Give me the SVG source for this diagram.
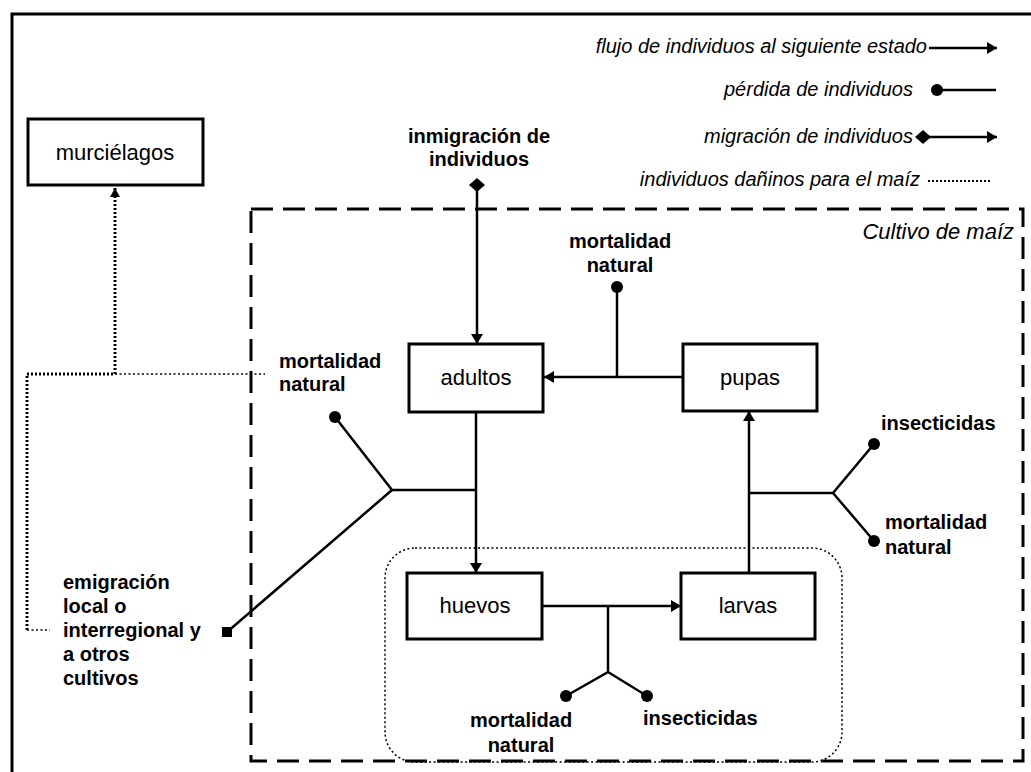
<svg xmlns="http://www.w3.org/2000/svg" width="1031" height="772" viewBox="0 0 1031 772">
<defs>
<style>
text{font-family:"Liberation Sans",Arial,sans-serif;fill:#000}
.node{fill:#fff;stroke:#000;stroke-width:3}
.lbl{font-size:22px;text-anchor:middle}
.b{font-size:20px;font-weight:bold}
.it{font-size:20px;font-style:italic;text-anchor:end}
.ln{fill:none;stroke:#000;stroke-width:2.5}
.dotk{fill:none;stroke:#000;stroke-width:3;stroke-dasharray:2,2}
.dott{fill:none;stroke:#000;stroke-width:1.5;stroke-dasharray:2,2.5}
</style>
<marker id="arr" markerUnits="userSpaceOnUse" markerWidth="12" markerHeight="12" refX="10" refY="6" orient="auto"><path d="M0,0 L10,6 L0,12 z" fill="#000"/></marker>
<marker id="arrs" markerUnits="userSpaceOnUse" markerWidth="10" markerHeight="10" refX="9" refY="5" orient="auto"><path d="M0,0 L9,5 L0,10 z" fill="#000"/></marker>
<marker id="dot" markerUnits="userSpaceOnUse" markerWidth="14" markerHeight="14" refX="7" refY="7"><circle cx="7" cy="7" r="6" fill="#000"/></marker>
<marker id="dia" markerUnits="userSpaceOnUse" markerWidth="16" markerHeight="14" refX="8" refY="7"><path d="M0,7 L8,0 L16,7 L8,14 z" fill="#000"/></marker>
<marker id="sq" markerUnits="userSpaceOnUse" markerWidth="12" markerHeight="12" refX="6" refY="6"><rect x="1" y="1" width="10" height="10" fill="#000"/></marker>
</defs>
<rect width="1031" height="772" fill="#fff"/>
<path d="M12,772 L12,14 L1031,14" fill="none" stroke="#000" stroke-width="3"/>

<g id="legend">
<text class="it" x="927" y="53">flujo de individuos al siguiente estado</text>
<line class="ln" x1="929" y1="48" x2="997" y2="48" stroke-width="2" marker-end="url(#arr)"/>
<text class="it" x="913" y="96">pérdida de individuos</text>
<line class="ln" x1="937" y1="90" x2="996" y2="90" stroke-width="2" marker-start="url(#dot)"/>
<text class="it" x="913" y="143">migración de individuos</text>
<line class="ln" x1="923" y1="137" x2="997" y2="137" stroke-width="2" marker-start="url(#dia)" marker-end="url(#arr)"/>
<text class="it" x="920" y="186">individuos dañinos para el maíz</text>
<line x1="928" y1="181" x2="992" y2="181" stroke="#000" stroke-width="2" stroke-dasharray="2,2"/>
</g>

<g id="cultivo">
<rect x="251" y="209" width="772" height="552" fill="none" stroke="#000" stroke-width="3" stroke-dasharray="22,10"/>
<text x="1014" y="239" font-size="22" font-style="italic" text-anchor="end">Cultivo de maíz</text>
</g>

<g id="inmaduros">
<rect x="385" y="548" width="457" height="214" rx="30" fill="none" stroke="#000" stroke-width="1.5" stroke-dasharray="2,2.5"/>
</g>

<g id="connectors">
<!-- immigration -->
<line class="ln" x1="477" y1="185" x2="477" y2="344" marker-start="url(#dia)" marker-end="url(#arr)"/>
<!-- pupas to adultos -->
<line class="ln" x1="683" y1="377" x2="544" y2="377" marker-end="url(#arr)"/>
<line class="ln" x1="617" y1="377" x2="617" y2="287" marker-end="url(#dot)"/>
<!-- adultos to huevos -->
<line class="ln" x1="476" y1="412" x2="476" y2="573" marker-end="url(#arr)"/>
<polyline class="ln" points="476,490 392,490 335,417" marker-end="url(#dot)"/>
<line class="ln" x1="392" y1="490" x2="227" y2="632" marker-end="url(#sq)"/>
<!-- huevos to larvas -->
<line class="ln" x1="542" y1="606" x2="681" y2="606" marker-end="url(#arr)"/>
<polyline class="ln" points="608,606 608,672 566,696" marker-end="url(#dot)"/>
<line class="ln" x1="608" y1="672" x2="647" y2="696" marker-end="url(#dot)"/>
<!-- larvas to pupas -->
<line class="ln" x1="749" y1="573" x2="749" y2="411" marker-end="url(#arr)"/>
<polyline class="ln" points="749,493 833,493 874,444" marker-end="url(#dot)"/>
<line class="ln" x1="833" y1="493" x2="874" y2="541" marker-end="url(#dot)"/>
<!-- bats (dotted) -->
<polyline class="dotk" points="27,630 27,374 115,374 115,188" marker-end="url(#arrs)"/>
<line class="dott" x1="115" y1="374" x2="265" y2="374"/>
<line class="dott" x1="27" y1="630" x2="50" y2="630"/>
</g>

<g id="murcielagos"><rect class="node" x="28" y="119" width="175" height="66"/><text class="lbl" x="115" y="160">murciélagos</text></g>
<g id="adultos"><rect class="node" x="409" y="344" width="134" height="68"/><text class="lbl" x="476" y="385">adultos</text></g>
<g id="pupas"><rect class="node" x="683" y="344" width="134" height="67"/><text class="lbl" x="750" y="385">pupas</text></g>
<g id="huevos"><rect class="node" x="407" y="573" width="135" height="66"/><text class="lbl" x="475" y="613">huevos</text></g>
<g id="larvas"><rect class="node" x="681" y="573" width="134" height="66"/><text class="lbl" x="748" y="613">larvas</text></g>

<g id="labels">
<text class="b" x="479" y="143" text-anchor="middle">inmigración de</text>
<text class="b" x="479" y="166" text-anchor="middle">individuos</text>
<text class="b" x="620" y="248" text-anchor="middle">mortalidad</text>
<text class="b" x="620" y="272" text-anchor="middle">natural</text>
<text class="b" x="279" y="368">mortalidad</text>
<text class="b" x="279" y="391">natural</text>
<text class="b" x="881" y="430">insecticidas</text>
<text class="b" x="885" y="529">mortalidad</text>
<text class="b" x="885" y="554">natural</text>
<text class="b" x="521" y="727" text-anchor="middle">mortalidad</text>
<text class="b" x="521" y="752" text-anchor="middle">natural</text>
<text class="b" x="643" y="725">insecticidas</text>
<text class="b" x="63" y="589">emigración</text>
<text class="b" x="63" y="613">local o</text>
<text class="b" x="63" y="637">interregional y</text>
<text class="b" x="63" y="661">a otros</text>
<text class="b" x="63" y="685">cultivos</text>
</g>
</svg>
